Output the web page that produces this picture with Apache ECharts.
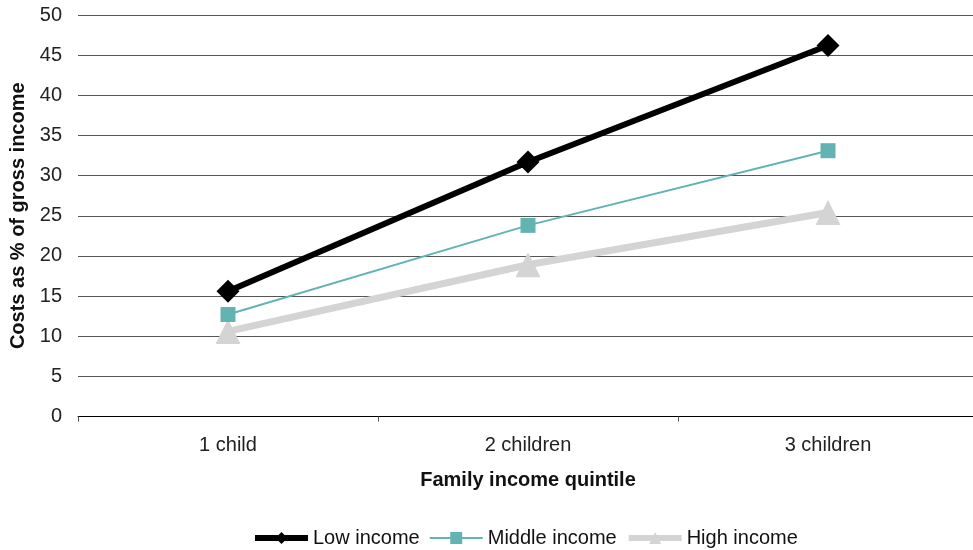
<!DOCTYPE html>
<html><head><meta charset="utf-8">
<script src="https://cdn.jsdelivr.net/npm/echarts@6/dist/echarts.min.js"></script>
<style>html,body{margin:0;padding:0;background:#fff}#c{width:973px;height:550px}</style>
</head><body><div id="c"></div>
<script>
const categories = ['1 child', '2 children', '3 children'];
const lowIncome = [15.6, 31.7, 46.2];
const middleIncome = [12.7, 23.8, 33.1];
const highIncome = [10.6, 18.9, 25.4];
const seriesNames = ['Low income', 'Middle income', 'High income'];

const chart = echarts.init(document.getElementById('c'));
const font = 'Liberation Sans, Arial, sans-serif';
chart.setOption({
  animation: false,
  textStyle: { fontFamily: font },
  grid: { left: 78, right: -5, top: 15, bottom: 133.5, containLabel: false, outerBoundsMode: 'none' },
  legend: {
    bottom: -3, left: 247,
    itemWidth: 53, itemHeight: 15, itemGap: 9,
    textStyle: { fontFamily: font, fontSize: 20, color: '#111' },
    data: [
      { name: seriesNames[0], lineStyle: { width: 6 } },
      { name: seriesNames[1], lineStyle: { width: 2 } },
      { name: seriesNames[2], lineStyle: { width: 6 } }
    ]
  },
  xAxis: {
    type: 'category', data: categories, boundaryGap: true,
    name: 'Family income quintile', nameLocation: 'middle', nameGap: 54,
    nameTextStyle: { fontFamily: font, fontSize: 20, fontWeight: 'bold', color: '#111' },
    axisLine: { lineStyle: { color: '#000', width: 1 } },
    axisTick: { show: true, length: 5, lineStyle: { color: '#555' } },
    axisLabel: { fontFamily: font, fontSize: 20, color: '#222', margin: 19 }
  },
  yAxis: {
    type: 'value', min: 0, max: 50, interval: 5,
    name: 'Costs as % of gross income', nameLocation: 'middle', nameGap: 49,
    nameTextStyle: { fontFamily: font, fontSize: 20, fontWeight: 'bold', color: '#111' },
    axisLine: { show: false }, axisTick: { show: false },
    axisLabel: { fontFamily: font, fontSize: 20, color: '#222', margin: 16 },
    splitLine: { lineStyle: { color: '#555', width: 1 } }
  },
  series: [
    { name: seriesNames[0], type: 'line', data: lowIncome, symbol: 'diamond', symbolSize: 23,
      lineStyle: { color: '#000', width: 6 }, itemStyle: { color: '#000' }, z: 5 },
    { name: seriesNames[1], type: 'line', data: middleIncome, symbol: 'rect', symbolSize: 15,
      lineStyle: { color: '#64b3b3', width: 2 }, itemStyle: { color: '#64b3b3' }, z: 4 },
    { name: seriesNames[2], type: 'line', data: highIncome, symbol: 'triangle', symbolSize: 25,
      lineStyle: { color: '#d4d4d4', width: 7 }, itemStyle: { color: '#d4d4d4' }, z: 3 }
  ]
});
</script></body></html>
